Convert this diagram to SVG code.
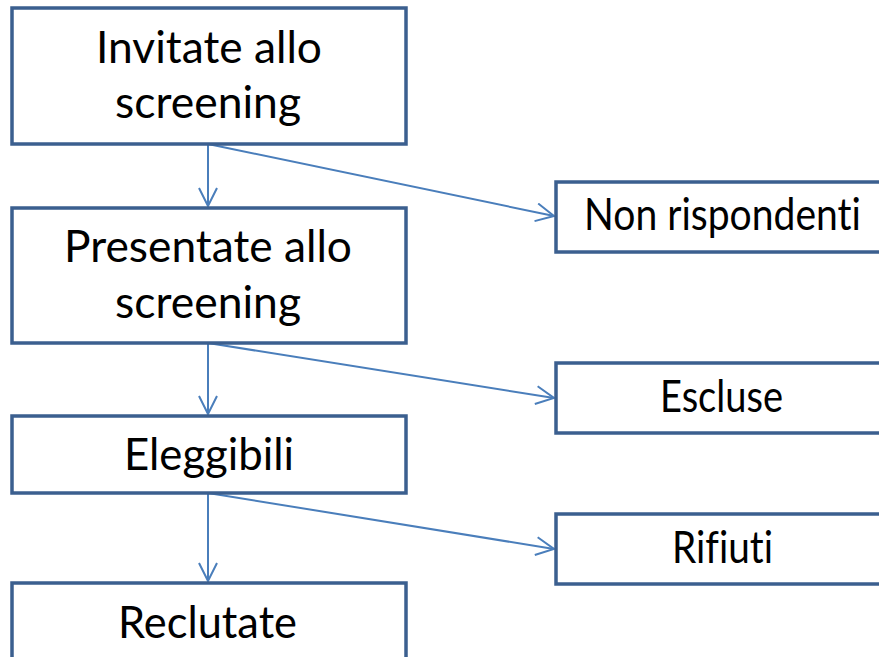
<svg xmlns="http://www.w3.org/2000/svg" width="879" height="657" viewBox="0 0 879 657">
<style>
.box{fill:#fff;stroke:#3b5f8f;stroke-width:3.5}
.t{font-family:Lato,"Open Sans",sans-serif;font-size:44px;fill:#000;text-anchor:middle;font-variant-ligatures:none}
.c{fill:none;stroke:#4a7ebb;stroke-width:2}
</style>
<defs>
<marker id="a" viewBox="0 0 20 20" refX="19" refY="10" markerWidth="20" markerHeight="20" markerUnits="userSpaceOnUse" orient="auto">
<path d="M1,1 L19,10 L1,19" fill="none" stroke="#4a7ebb" stroke-width="2"/>
</marker>
</defs>
<rect width="879" height="657" fill="#fff"/>
<g id="connectors">
<line class="c" x1="208" y1="144" x2="208" y2="206" marker-end="url(#a)"/>
<line class="c" x1="208" y1="144" x2="554" y2="216" marker-end="url(#a)"/>
<line class="c" x1="208" y1="343" x2="208" y2="414" marker-end="url(#a)"/>
<line class="c" x1="208" y1="343" x2="554" y2="398" marker-end="url(#a)"/>
<line class="c" x1="208" y1="493" x2="208" y2="581" marker-end="url(#a)"/>
<line class="c" x1="208" y1="493" x2="554" y2="549" marker-end="url(#a)"/>
</g>
<g id="invitate">
<rect class="box" x="12" y="8" width="394" height="136"/>
<text class="t" x="209" y="63" textLength="226" lengthAdjust="spacingAndGlyphs">Invitate allo</text>
<text class="t" x="208" y="118" textLength="186" lengthAdjust="spacingAndGlyphs">screening</text>
</g>
<g id="presentate">
<rect class="box" x="12" y="208" width="394" height="135"/>
<text class="t" x="208" y="262" textLength="288" lengthAdjust="spacingAndGlyphs">Presentate allo</text>
<text class="t" x="208" y="318" textLength="186" lengthAdjust="spacingAndGlyphs">screening</text>
</g>
<g id="eleggibili">
<rect class="box" x="12" y="416" width="394" height="77"/>
<text class="t" x="209" y="470" textLength="170" lengthAdjust="spacingAndGlyphs">Eleggibili</text>
</g>
<g id="reclutate">
<rect class="box" x="12" y="583" width="394" height="90"/>
<text class="t" x="207.5" y="638" textLength="179" lengthAdjust="spacingAndGlyphs">Reclutate</text>
</g>
<g id="non-rispondenti">
<rect class="box" x="556" y="182" width="340" height="70"/>
<text class="t" x="722.5" y="230" textLength="277" lengthAdjust="spacingAndGlyphs">Non rispondenti</text>
</g>
<g id="escluse">
<rect class="box" x="556" y="363" width="340" height="70"/>
<text class="t" x="721.5" y="412" textLength="123" lengthAdjust="spacingAndGlyphs">Escluse</text>
</g>
<g id="rifiuti">
<rect class="box" x="556" y="514" width="340" height="70"/>
<text class="t" x="722.5" y="563" textLength="101" lengthAdjust="spacingAndGlyphs">Rifiuti</text>
</g>
</svg>
